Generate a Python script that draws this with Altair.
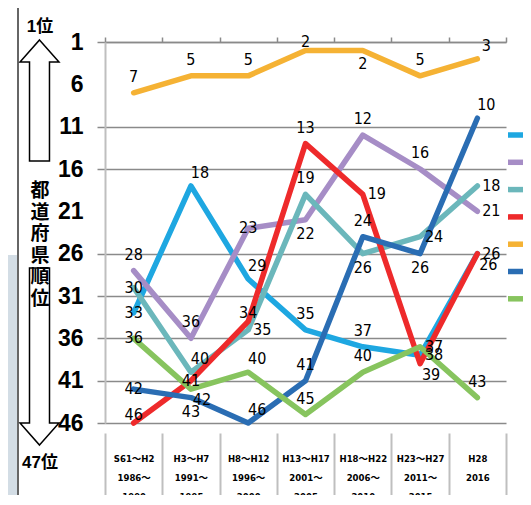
import altair as alt
import pandas as pd

periods = ["S61～H2|1986～|1990", "H3～H7|1991～|1995", "H8～H12|1996～|2000",
           "H13～H17|2001～|2005", "H18～H22|2006～|2010", "H23～H27|2011～|2015", "H28|2016"]
series_names = ["系列1", "系列2", "系列3", "系列4", "系列5", "系列6", "系列7"]
colors = ["#1EA7E1", "#A68DC6", "#6BB7BB", "#EE2A2B", "#F5B234", "#2A6DB3", "#87C45E"]

rank_s1 = [33, 18, 29, 35, 37, 38, 26]   # light blue
rank_s2 = [28, 36, 23, 22, 12, 16, 21]   # purple
rank_s3 = [30, 40, 35, 19, 26, 24, 18]   # teal
rank_s4 = [46, 41, 34, 13, 19, 39, 26]   # red
rank_s5 = [7, 5, 5, 2, 2, 5, 3]          # orange
rank_s6 = [42, 43, 46, 41, 24, 26, 10]   # dark blue
rank_s7 = [36, 42, 40, 45, 40, 37, 43]   # green
ranks = [rank_s1, rank_s2, rank_s3, rank_s4, rank_s5, rank_s6, rank_s7]

y_ticks = [1, 6, 11, 16, 21, 26, 31, 36, 41, 46]

# label placement codes (style only)
label_pos = [
    ["c", "ar", "ar", "a", "a", "r", "br"],
    ["a", "a", "c", "b", "a", "a", "r"],
    ["c", "ar", "r", "a", "b", "r", "r"],
    ["h", "c", "h", "a", "r", "br", "r"],
    ["a", "a", "a", "h", "b", "a", "ar"],
    ["c", "b", "ar", "a", "a", "b", "ar"],
    ["c", "br", "ar", "a", "a", "r", "a"],
]
offsets = {"a": (0, -16), "h": (0, -8), "b": (0, 14), "r": (14, 0),
           "ar": (9, -13), "br": (11, 11), "c": (0, 0)}

rows = []
for si, name in enumerate(series_names):
    for i, p in enumerate(periods):
        rows.append({"series": name, "period": p, "rank": ranks[si][i], "pos": label_pos[si][i]})
df = pd.DataFrame(rows)

NARROW = "DejaVu Sans Condensed, Noto Sans CJK JP, sans-serif"
AXISF = "Liberation Sans, Arial, sans-serif"
CJK = "Liberation Sans, Noto Sans CJK JP, sans-serif"

yscale = alt.Scale(domain=[1, 46], reverse=True, nice=False, zero=False)
xscale = alt.Scale(type="band", paddingInner=0, paddingOuter=0)

lines = alt.Chart(df).mark_line(strokeWidth=5.5, strokeCap="round", strokeJoin="round").encode(
    x=alt.X("period:N", sort=periods, scale=xscale, bandPosition=0.5,
            axis=alt.Axis(orient="bottom", title=None, domain=False, ticks=True, tickBand="extent",
                          tickSize=82, tickColor="#BFBFBF", tickWidth=2, offset=10,
                          labelPadding=-62, labelExpr="split(datum.label, '|')", labelAngle=0,
                          labelFontSize=9.5, labelFontWeight="bold", labelFont=NARROW,
                          labelLineHeight=19, labelColor="#000", labelOverlap=False, grid=False)),
    y=alt.Y("rank:Q", scale=yscale,
            axis=alt.Axis(values=y_ticks, title=None, domain=True, domainColor="#BFBFBF", domainWidth=2,
                          ticks=True, tickSize=8, tickColor="#8A8A8A", tickWidth=1.5,
                          tickOpacity={"condition": {"test": "datum.value == 6 || datum.value == 21", "value": 0}, "value": 1},
                          grid=True, gridColor="#8A8A8A", gridWidth=1.5,
                          gridOpacity={"condition": {"test": "datum.value == 6 || datum.value == 21", "value": 0}, "value": 1},
                          labelFontSize=23, labelFontWeight="bold", labelFont=AXISF, labelColor="#000",
                          labelPadding=14)),
    color=alt.Color("series:N", scale=alt.Scale(domain=series_names, range=colors),
                    legend=alt.Legend(orient="none", legendX=400, legendY=78, title=None,
                                      symbolType="stroke", symbolSize=576, symbolStrokeWidth=5.5,
                                      labelFontSize=13, rowPadding=1.3, padding=0, labelOffset=14,
                                      labelColor="#000")),
)

top_axis = alt.Chart(df).mark_line(opacity=0).encode(
    x=alt.X("period:N", sort=periods, scale=xscale, bandPosition=0.5,
            axis=alt.Axis(orient="top", title=None, labels=False, domain=True, domainColor="#8A8A8A",
                          domainWidth=1.5, ticks=True, tickBand="extent", tickSize=5,
                          tickColor="#8A8A8A", tickWidth=1.5, grid=False)),
    y=alt.Y("rank:Q", scale=yscale, axis=None),
    detail="series:N",
)

text_layers = []
for code, (dx, dy) in offsets.items():
    text_layers.append(
        alt.Chart(df).transform_filter(alt.datum.pos == code).mark_text(
            dx=dx, dy=dy, fontSize=16, font=NARROW, color="#000", align="center", baseline="middle"
        ).encode(
            x=alt.X("period:N", sort=periods, scale=xscale, bandPosition=0.5, axis=None),
            y=alt.Y("rank:Q", scale=yscale, axis=None),
            text="rank:Q",
        )
    )

one = pd.DataFrame({"a": [0]})
up_path = "M0,-1 L0.322,-0.636 L0.165,-0.636 L0.165,1 L-0.165,1 L-0.165,-0.636 L-0.322,-0.636 Z"
down_path = "M0,1 L0.22,0.751 L0.113,0.751 L0.113,-1 L-0.113,-1 L-0.113,0.751 L-0.22,0.751 Z"

side_fill = alt.Chart(one).mark_rect(color="#D3DDE5").encode(
    x=alt.value(-105), x2=alt.value(-88), y=alt.value(213), y2=alt.value(470))
up_arrow = alt.Chart(one).mark_point(shape=up_path, filled=False, stroke="#000", strokeWidth=1.5,
                                     size=14641, opacity=1).encode(x=alt.value(-65.5), y=alt.value(58.5))
down_arrow = alt.Chart(one).mark_point(shape=down_path, filled=False, stroke="#000", strokeWidth=1.5,
                                       size=31329, opacity=1).encode(x=alt.value(-65.5), y=alt.value(314.5))
top_lbl = alt.Chart(one).mark_text(text="1位", fontSize=17, fontWeight="bold", font=CJK, color="#000").encode(
    x=alt.value(-65), y=alt.value(-15))
bot_lbl = alt.Chart(one).mark_text(text="47位", fontSize=17, fontWeight="bold", font=CJK, color="#000").encode(
    x=alt.value(-65), y=alt.value(421))
vert_lbl = alt.Chart(one).mark_text(text=["都", "道", "府", "県", "順", "位"], fontSize=19, fontWeight="bold",
                                    font="Noto Sans CJK JP", color="#000", lineHeight=21.5,
                                    baseline="middle").encode(x=alt.value(-65), y=alt.value(149))
edge_line = alt.Chart(one).mark_rule(color="#333", strokeWidth=1.5).encode(
    x=alt.value(-87), y=alt.value(-34), y2=alt.value(460))

chart = alt.layer(lines, top_axis, *text_layers, side_fill, up_arrow, down_arrow, top_lbl, bot_lbl, vert_lbl, edge_line).resolve_axis(
    x="independent", y="independent"
).properties(
    width=401, height=381,
    autosize=alt.AutoSizeParams(type="none"),
    padding={"left": 97, "top": 34, "right": 17, "bottom": 72},
).configure_view(stroke=None)

chart.save("out.html", embed_options={"renderer": "svg", "actions": False})
